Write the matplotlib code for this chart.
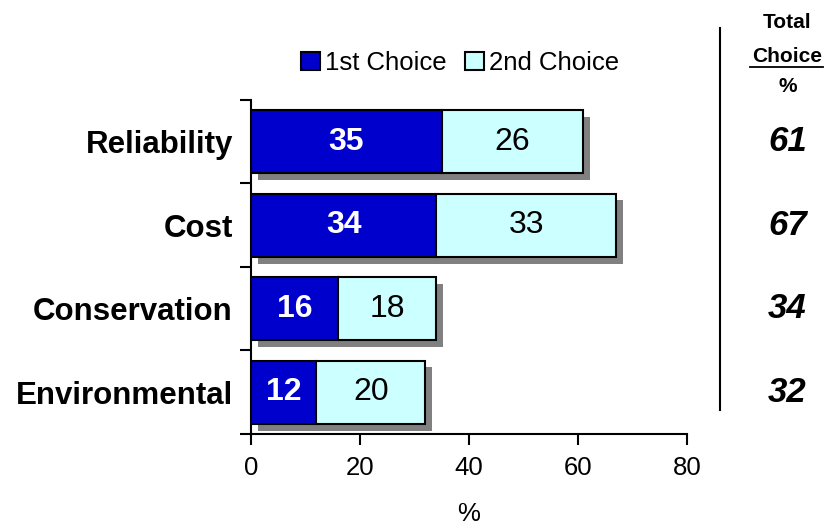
import matplotlib
matplotlib.use("Agg")
import matplotlib.pyplot as plt
import matplotlib.patheffects as pe
import matplotlib.transforms as mtrans
from matplotlib.lines import Line2D
from matplotlib.patches import Patch
import numpy as np

plt.rcParams['font.family'] = ['Liberation Sans', 'DejaVu Sans']

categories = ["Reliability", "Cost", "Conservation", "Environmental"]
first_choice = np.array([35, 34, 16, 12])
second_choice = np.array([26, 33, 18, 20])
totals = first_choice + second_choice

BLUE = "#0000CC"
CYAN = "#CCFFFF"

fig = plt.figure(figsize=(8.27, 5.31), dpi=100)
ax = fig.add_axes([0.3035, 0.1827, 0.527, 0.629])

y = np.arange(len(categories))
shadow = [pe.SimplePatchShadow(offset=(5, -5), shadow_rgbFace="#808080", alpha=1.0), pe.Normal()]

ax.barh(y, first_choice, height=0.76, color=BLUE, edgecolor="black",
        linewidth=1.5, path_effects=shadow, zorder=2)
ax.barh(y, second_choice, left=first_choice, height=0.76, color=CYAN,
        edgecolor="black", linewidth=1.5, path_effects=shadow, zorder=2)

for yi, v1, v2 in zip(y, first_choice, second_choice):
    ax.text(v1 / 2, yi, str(v1), ha="center", va="center", color="white",
            fontsize=23, fontweight="bold", zorder=3)
    ax.text(v1 + v2 / 2, yi, str(v2), ha="center", va="center", color="black",
            fontsize=23, zorder=3)

ax.set_xlim(0, 80)
ax.set_ylim(3.5, -0.5)
ax.set_xticks([0, 20, 40, 60, 80])
ax.tick_params(axis="x", labelsize=18.5, length=8, width=1.5, pad=8)
ax.set_yticks(y)
ax.set_yticklabels(categories, fontsize=22.5, fontweight="bold")
ax.set_yticks(np.arange(-0.5, len(categories)), minor=True)
ax.tick_params(axis="y", which="major", length=0, pad=13)
ax.tick_params(axis="y", which="minor", length=8, width=1.5)
for s in ["top", "right"]:
    ax.spines[s].set_visible(False)
for s in ["left", "bottom"]:
    ax.spines[s].set_linewidth(1.5)

ax.set_xlabel("%", fontsize=18.5, labelpad=16)

# total column on the right
blend = mtrans.blended_transform_factory(fig.transFigure, ax.transData)
for yi, t in zip(y, totals):
    ax.text(0.952, yi, str(t), transform=blend, ha="center", va="center",
            fontsize=25, fontweight="bold", fontstyle="italic")

fig.add_artist(Line2D([0.8706, 0.8706], [1 - 28 / 531, 1 - 410 / 531],
                      color="black", linewidth=1.5))
fig.text(0.952, 1 - 22 / 531, "Total", ha="center", va="center", fontsize=15, fontweight="bold")
fig.text(0.952, 1 - 56 / 531, "Choice", ha="center", va="center", fontsize=15, fontweight="bold")
fig.add_artist(Line2D([0.907, 0.995], [1 - 67 / 531, 1 - 67 / 531], color="black", linewidth=1.3))
fig.text(0.952, 1 - 87 / 531, "%", ha="center", va="center", fontsize=15, fontweight="bold")

handles = [Patch(facecolor=BLUE, edgecolor="black", linewidth=1.5),
           Patch(facecolor=CYAN, edgecolor="black", linewidth=1.5)]
fig.legend(handles, ["1st Choice", "2nd Choice"], loc="center",
           bbox_to_anchor=(460 / 827, 1 - 63 / 531), ncol=2, frameon=False,
           fontsize=18.5, handlelength=0.75, handleheight=0.75, handletextpad=0.2,
           columnspacing=0.7)

fig.savefig("out.png", dpi=100)
